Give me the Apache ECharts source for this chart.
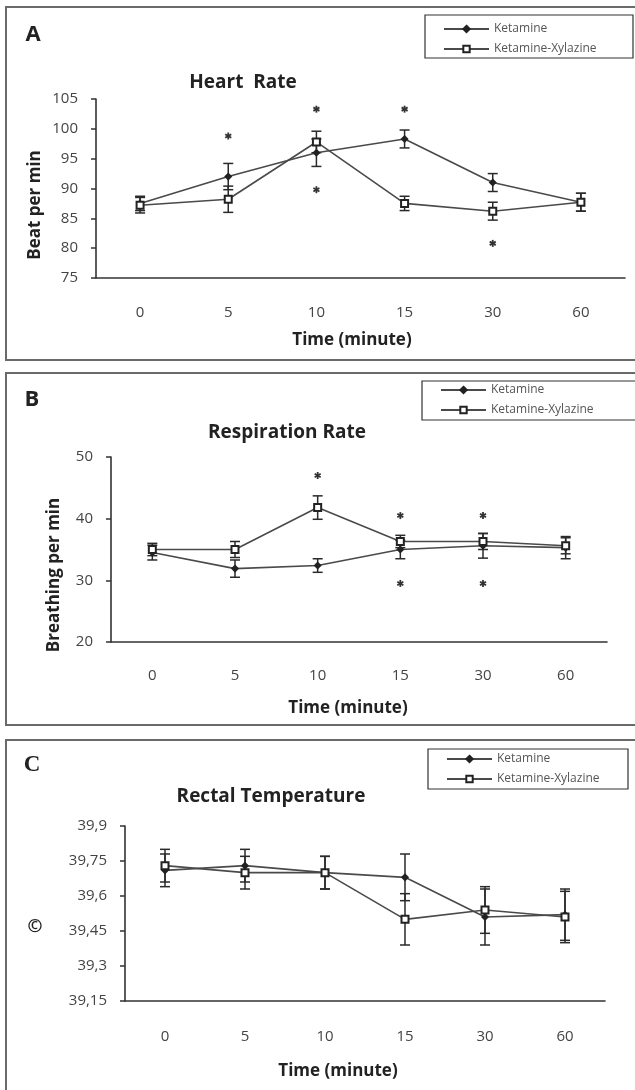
<!DOCTYPE html>
<html>
<head>
<meta charset="utf-8">
<script src="https://cdn.jsdelivr.net/npm/echarts@6/dist/echarts.min.js"></script>
<style>
  html, body { margin: 0; padding: 0; background: #fff; }
  #chart { width: 635px; height: 1090px; }
</style>
</head>
<body>
<div id="chart"></div>
<script>
const categories = ["0", "5", "10", "15", "30", "60"];

// Heart rate (beat per min)
const hrKetamine = [87.5, 92, 96, 98.3, 91, 87.7];
const hrKetamineErr = [1.2, 2.2, 2.3, 1.5, 1.5, 1.5];
const hrXylazine = [87.2, 88.2, 97.8, 87.5, 86.2, 87.7];
const hrXylazineErr = [1.3, 2.2, 1.8, 1.2, 1.5, 1.5];
const hrStars = [[1, 98.8], [2, 103.3], [2, 89.8], [3, 103.3], [4, 80.8]];

// Respiration rate (breathing per min)
const rrKetamine = [34.5, 31.9, 32.4, 35.0, 35.6, 35.3];
const rrKetamineErr = [1.2, 1.4, 1.1, 1.5, 2.0, 1.8];
const rrXylazine = [35.0, 35.0, 41.8, 36.3, 36.3, 35.6];
const rrXylazineErr = [1.0, 1.3, 1.9, 1.0, 1.3, 1.3];
const rrStars = [[2, 47], [3, 40.5], [3, 29.5], [4, 40.5], [4, 29.5]];

// Rectal temperature
const rtKetamine = [39.71, 39.73, 39.70, 39.68, 39.51, 39.52];
const rtKetamineErr = [0.07, 0.07, 0.07, 0.10, 0.12, 0.11];
const rtXylazine = [39.73, 39.70, 39.70, 39.50, 39.54, 39.51];
const rtXylazineErr = [0.07, 0.07, 0.07, 0.11, 0.10, 0.11];

const chart = echarts.init(document.getElementById("chart"));

const FONT = '"Open Sans", sans-serif';
const INK = "#333";
const LINE = "#4a4a4a";

function lineSeries(name, data, index, symbol, size) {
  return {
    name,
    type: "line",
    xAxisIndex: index,
    yAxisIndex: index,
    data,
    symbol,
    symbolSize: size,
    z: 4,
    lineStyle: { color: LINE, width: 1.6 },
    itemStyle: { color: "#222", borderColor: "#222", borderWidth: 1.5 },
  };
}

function errorSeries(means, errs, index) {
  return {
    type: "custom",
    xAxisIndex: index,
    yAxisIndex: index,
    z: 3,
    silent: true,
    data: means.map((m, i) => [i, m - errs[i], m + errs[i]]),
    encode: { x: 0, y: [1, 2] },
    renderItem: (params, api) => {
      const top = api.coord([api.value(0), api.value(2)]);
      const bot = api.coord([api.value(0), api.value(1)]);
      const hw = 5;
      const style = { stroke: "#2a2a2a", lineWidth: 1.5 };
      return {
        type: "group",
        children: [
          { type: "line", shape: { x1: top[0], y1: top[1], x2: bot[0], y2: bot[1] }, style },
          { type: "line", shape: { x1: top[0] - hw, y1: top[1], x2: top[0] + hw, y2: top[1] }, style },
          { type: "line", shape: { x1: bot[0] - hw, y1: bot[1], x2: bot[0] + hw, y2: bot[1] }, style },
        ],
      };
    },
  };
}

function starSeries(points, index) {
  return {
    type: "custom",
    xAxisIndex: index,
    yAxisIndex: index,
    silent: true,
    data: points,
    renderItem: (params, api) => {
      const p = api.coord([api.value(0), api.value(1)]);
      const r = 3.5;
      const style = { stroke: "#333", lineWidth: 1.8 };
      const children = [90, 30, 150].map(deg => {
        const a = deg * Math.PI / 180;
        return {
          type: "line",
          shape: { x1: p[0] - r * Math.cos(a), y1: p[1] - r * Math.sin(a), x2: p[0] + r * Math.cos(a), y2: p[1] + r * Math.sin(a) },
          style,
        };
      });
      return { type: "group", children };
    },
  };
}

function xAxis(index, margin) {
  return {
    type: "category",
    gridIndex: index,
    data: categories,
    boundaryGap: true,
    axisLine: { lineStyle: { color: INK, width: 1.6 } },
    axisTick: { length: 4, lineStyle: { color: INK, width: 1.5 } },
    axisLabel: { margin, color: "#444", fontSize: 15, fontFamily: FONT },
    splitLine: { show: false },
  };
}

function yAxis(index, min, max, interval, formatter) {
  return {
    type: "value",
    gridIndex: index,
    min,
    max,
    interval,
    axisLine: { show: true, lineStyle: { color: INK, width: 1.6 } },
    axisTick: { show: true, length: 5, lineStyle: { color: INK, width: 1.5 } },
    axisLabel: { margin: 18, color: "#444", fontSize: 15, fontFamily: FONT, formatter },
    splitLine: { show: false },
  };
}

function text(x, y, str, font, rotation) {
  return {
    type: "text",
    x,
    y,
    rotation: rotation || 0,
    style: { text: str, font, fill: "#222", align: "center", verticalAlign: "middle" },
  };
}

function box(x, y, w, h, stroke, lineWidth) {
  return {
    type: "rect",
    shape: { x, y, width: w, height: h },
    style: { fill: "none", stroke, lineWidth },
    z: 0,
  };
}

function legend(left, top) {
  return {
    orient: "vertical",
    left,
    top,
    padding: 0,
    itemGap: 6,
    itemWidth: 45,
    itemHeight: 8,
    textStyle: { fontSize: 12, color: "#555", fontFamily: FONT, lineHeight: 14 },
    data: ["Ketamine", "Ketamine-Xylazine"],
  };
}

const titleFont = `bold 19px ${FONT}`;
const nameFont = `bold 17px ${FONT}`;

chart.setOption({
  animation: false,
  grid: [
    { left: 96, right: 10, top: 99, height: 179 },
    { left: 111, right: 28, top: 457, height: 185 },
    { left: 125, right: 30, top: 826, height: 175 },
  ],
  xAxis: [xAxis(0, 27), xAxis(1, 26), xAxis(2, 28)],
  yAxis: [
    yAxis(0, 75, 105, 5),
    yAxis(1, 20, 50, 10),
    yAxis(2, 39.15, 39.9, 0.15, v => String(+v.toFixed(2)).replace(".", ",")),
  ],
  legend: [legend(443, 22), legend(440, 383), legend(446, 752)],
  graphic: [
    box(6, 7, 640, 353, "#6a6a6a", 2),
    box(6, 373, 640, 352, "#6a6a6a", 2),
    box(6, 740, 640, 400, "#6a6a6a", 2),
    box(425, 15, 208, 43, "#333", 1.2),
    box(422, 381, 220, 39, "#333", 1.2),
    box(428, 749, 200, 40, "#333", 1.2),
    text(33, 35, "A", `bold 22px ${FONT}`),
    text(32, 400, "B", `bold 22px ${FONT}`),
    text(32, 765, "C", 'bold 23px "Liberation Serif", serif'),
    text(243, 83, "Heart  Rate", titleFont),
    text(287, 433, "Respiration Rate", titleFont),
    text(271, 797, "Rectal Temperature", titleFont),
    text(35, 205, "Beat per min", nameFont, Math.PI / 2),
    text(54, 575, "Breathing per min", nameFont, Math.PI / 2),
    text(35, 927, "©", `bold 18px ${FONT}`),
    text(352, 340, "Time (minute)", nameFont),
    text(348, 708, "Time (minute)", nameFont),
    text(338, 1071, "Time (minute)", nameFont),
  ],
  series: [
    errorSeries(hrKetamine, hrKetamineErr, 0),
    errorSeries(hrXylazine, hrXylazineErr, 0),
    lineSeries("Ketamine", hrKetamine, 0, "diamond", 6),
    lineSeries("Ketamine-Xylazine", hrXylazine, 0, "emptyRect", 7),
    starSeries(hrStars, 0),

    errorSeries(rrKetamine, rrKetamineErr, 1),
    errorSeries(rrXylazine, rrXylazineErr, 1),
    lineSeries("Ketamine", rrKetamine, 1, "diamond", 6),
    lineSeries("Ketamine-Xylazine", rrXylazine, 1, "emptyRect", 7),
    starSeries(rrStars, 1),

    errorSeries(rtKetamine, rtKetamineErr, 2),
    errorSeries(rtXylazine, rtXylazineErr, 2),
    lineSeries("Ketamine", rtKetamine, 2, "diamond", 6),
    lineSeries("Ketamine-Xylazine", rtXylazine, 2, "emptyRect", 7),
  ],
});
</script>
</body>
</html>
